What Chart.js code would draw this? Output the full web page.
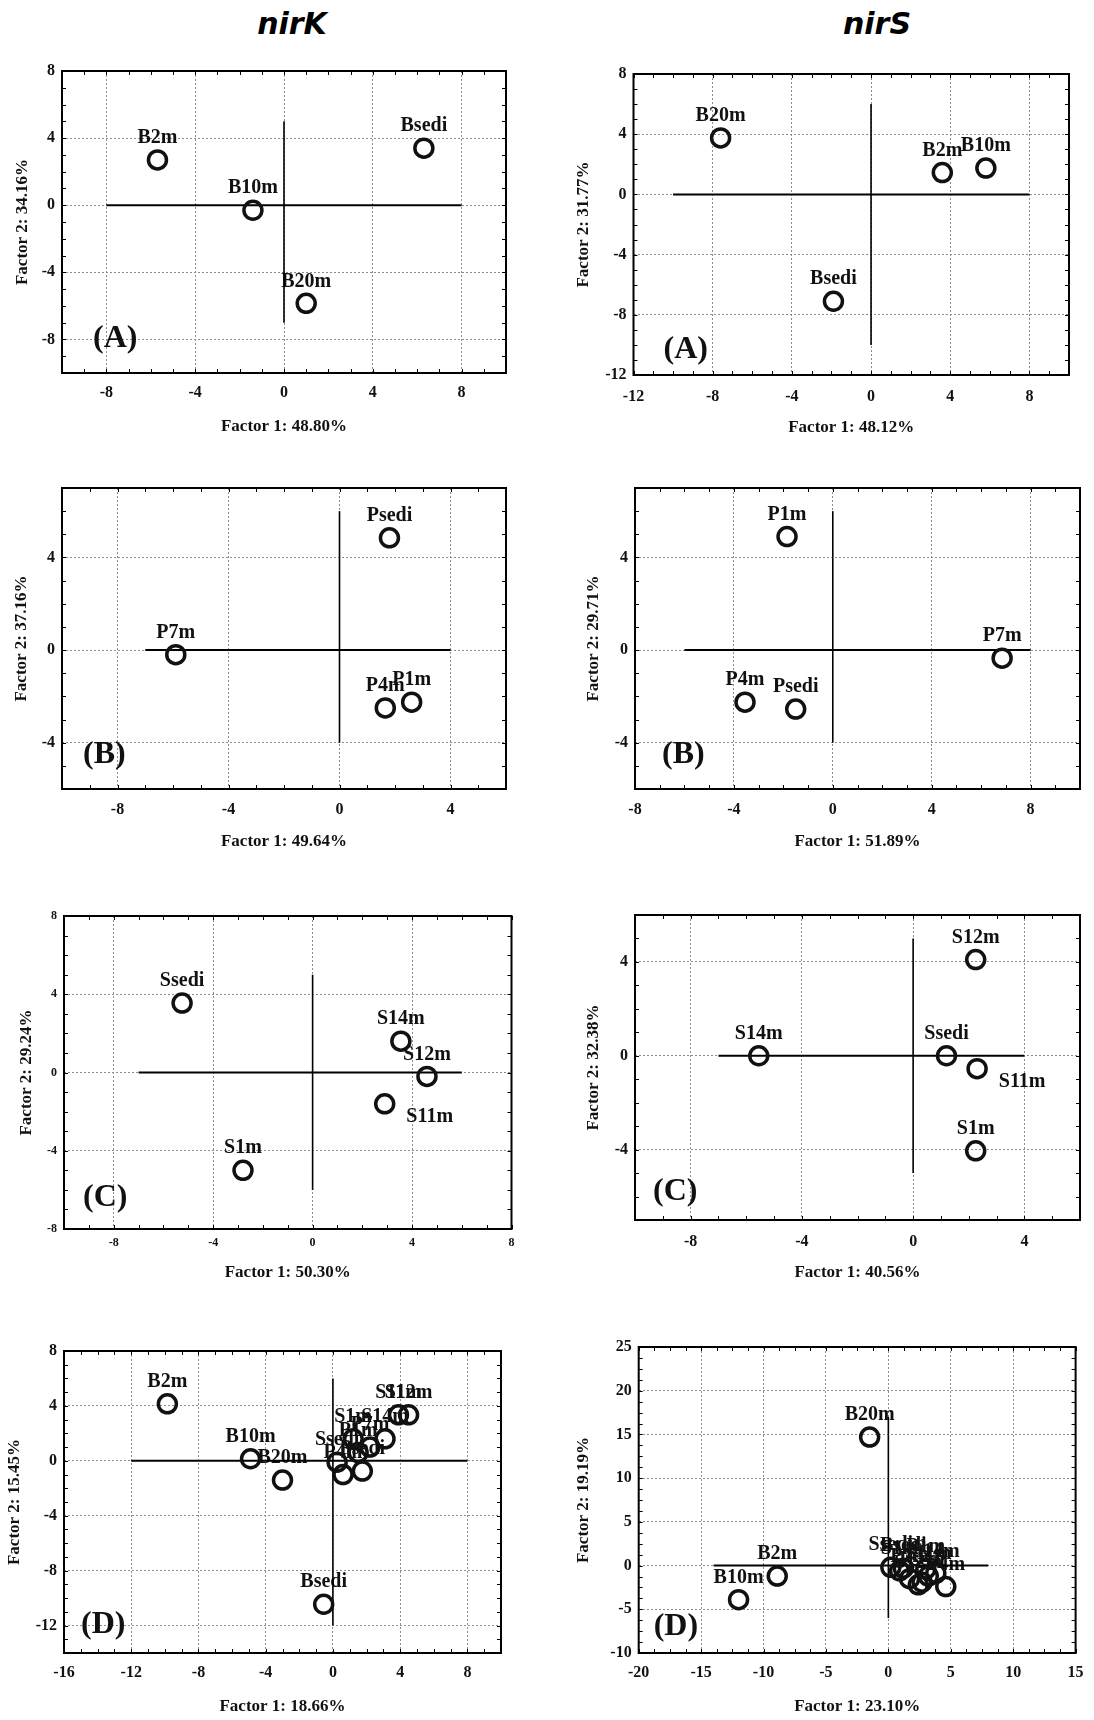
<!DOCTYPE html>
<html><head><meta charset="utf-8">
<script src="https://cdn.jsdelivr.net/npm/chart.js@4.4.1/dist/chart.umd.min.js"></script>
<style>
html,body{margin:0;padding:0;background:#fff}
body{width:1094px;height:1720px;position:relative;overflow:hidden}
canvas{position:absolute}
.hdr{position:absolute;font-family:'DejaVu Sans',sans-serif;font-weight:bold;font-style:italic;font-size:30px;color:#000;transform:translate(-50%,-50%);white-space:nowrap}
</style></head><body>
<div class="hdr" style="left:292px;top:23px">nirK</div>
<div class="hdr" style="left:877px;top:23px">nirS</div>
<script>
// ---------------- DATA ----------------
// nirK (A)
const nirK_A_names = ['B2m','B10m','B20m','Bsedi'];
const nirK_A_x = [-5.7, -1.4, 1.0, 6.3];
const nirK_A_y = [2.7, -0.3, -5.85, 3.4];
const nirK_A_xRange = [-10, 10], nirK_A_yRange = [-10, 8];
const nirK_A_xTicks = [-8, -4, 0, 4, 8], nirK_A_yTicks = [-8, -4, 0, 4, 8];
const nirK_A_hLine = [-8, 8], nirK_A_vLine = [-7, 5];
const nirK_A_titles = ['Factor 1: 48.80%', 'Factor 2: 34.16%', '(A)'];

// nirS (A)
const nirS_A_names = ['B20m','B2m','B10m','Bsedi'];
const nirS_A_x = [-7.6, 3.6, 5.8, -1.9];
const nirS_A_y = [3.75, 1.45, 1.75, -7.1];
const nirS_A_xRange = [-12, 10], nirS_A_yRange = [-12, 8];
const nirS_A_xTicks = [-12, -8, -4, 0, 4, 8], nirS_A_yTicks = [-12, -8, -4, 0, 4, 8];
const nirS_A_hLine = [-10, 8], nirS_A_vLine = [-10, 6];
const nirS_A_titles = ['Factor 1: 48.12%', 'Factor 2: 31.77%', '(A)'];

// nirK (B)
const nirK_B_names = ['Psedi','P7m','P4m','P1m'];
const nirK_B_x = [1.8, -5.9, 1.65, 2.6];
const nirK_B_y = [4.85, -0.2, -2.5, -2.25];
const nirK_B_xRange = [-10, 6], nirK_B_yRange = [-6, 7];
const nirK_B_xTicks = [-8, -4, 0, 4], nirK_B_yTicks = [-4, 0, 4];
const nirK_B_hLine = [-7, 4], nirK_B_vLine = [-4, 6];
const nirK_B_titles = ['Factor 1: 49.64%', 'Factor 2: 37.16%', '(B)'];

// nirS (B)
const nirS_B_names = ['P1m','P7m','P4m','Psedi'];
const nirS_B_x = [-1.85, 6.85, -3.55, -1.5];
const nirS_B_y = [4.9, -0.35, -2.25, -2.55];
const nirS_B_xRange = [-8, 10], nirS_B_yRange = [-6, 7];
const nirS_B_xTicks = [-8, -4, 0, 4, 8], nirS_B_yTicks = [-4, 0, 4];
const nirS_B_hLine = [-6, 8], nirS_B_vLine = [-4, 6];
const nirS_B_titles = ['Factor 1: 51.89%', 'Factor 2: 29.71%', '(B)'];

// nirK (C)
const nirK_C_names = ['Ssedi','S14m','S12m','S11m','S1m'];
const nirK_C_x = [-5.25, 3.55, 4.6, 2.9, -2.8];
const nirK_C_y = [3.55, 1.6, -0.2, -1.6, -5.0];
const nirK_C_xRange = [-10, 8], nirK_C_yRange = [-8, 8];
const nirK_C_xTicks = [-8, -4, 0, 4, 8], nirK_C_yTicks = [-8, -4, 0, 4, 8];
const nirK_C_hLine = [-7, 6], nirK_C_vLine = [-6, 5];
const nirK_C_titles = ['Factor 1: 50.30%', 'Factor 2: 29.24%', '(C)'];

// nirS (C)
const nirS_C_names = ['S12m','S14m','Ssedi','S11m','S1m'];
const nirS_C_x = [2.25, -5.55, 1.2, 2.3, 2.25];
const nirS_C_y = [4.1, 0.0, 0.0, -0.55, -4.05];
const nirS_C_xRange = [-10, 6], nirS_C_yRange = [-7, 6];
const nirS_C_xTicks = [-8, -4, 0, 4], nirS_C_yTicks = [-4, 0, 4];
const nirS_C_hLine = [-7, 4], nirS_C_vLine = [-5, 5];
const nirS_C_titles = ['Factor 1: 40.56%', 'Factor 2: 32.38%', '(C)'];

// nirK (D)
const nirK_D_names = ['B2m','B10m','B20m','Bsedi','Ssedi','P4m','P1m','S1m','P7m','Psedi','S14m','S11m','S12m'];
const nirK_D_x = [-9.85, -4.9, -3.0, -0.55, 0.25, 0.6, 1.5, 1.2, 2.2, 1.75, 3.1, 3.9, 4.5];
const nirK_D_y = [4.15, 0.15, -1.4, -10.45, -0.1, -1.0, 0.6, 1.6, 1.0, -0.75, 1.6, 3.35, 3.35];
const nirK_D_xRange = [-16, 10], nirK_D_yRange = [-14, 8];
const nirK_D_xTicks = [-16, -12, -8, -4, 0, 4, 8], nirK_D_yTicks = [-12, -8, -4, 0, 4, 8];
const nirK_D_hLine = [-12, 8], nirK_D_vLine = [-12, 6];
const nirK_D_titles = ['Factor 1: 18.66%', 'Factor 2: 15.45%', '(D)'];

// nirS (D)
const nirS_D_names = ['B20m','B2m','B10m','Ssedi','S1m','Bsedi','P7m','S12m','Psedi','S11m','P1m','S14m','P4m'];
const nirS_D_x = [-1.5, -8.9, -12.0, 0.2, 0.9, 1.2, 1.7, 2.4, 2.7, 3.2, 3.0, 3.8, 4.6];
const nirS_D_y = [14.7, -1.2, -3.9, -0.2, -0.6, -0.3, -1.5, -2.2, -1.9, -1.2, -0.4, -0.9, -2.4];
const nirS_D_xRange = [-20, 15], nirS_D_yRange = [-10, 25];
const nirS_D_xTicks = [-20, -15, -10, -5, 0, 5, 10, 15], nirS_D_yTicks = [-10, -5, 0, 5, 10, 15, 20, 25];
const nirS_D_hLine = [-14, 8], nirS_D_vLine = [-6, 17];
const nirS_D_titles = ['Factor 1: 23.10%', 'Factor 2: 19.19%', '(D)'];

// ---------------- LAYOUT (positions / styles) ----------------
const ROWS = [[40, 450], [450, 870], [870, 1300], [1300, 1720]];
const LAYOUT = {
  nirK_A: {col:0, row:0, box:[62,71,506,373],     yTitleX:23,  xTitleY:427,  xTickY:393,  tickFont:16, letter:[31,34]},
  nirS_A: {col:1, row:0, box:[633.5,74,1069,375], yTitleX:584, xTitleY:428,  xTickY:397,  tickFont:16, letter:[30,25]},
  nirK_B: {col:0, row:1, box:[62,488,506,789],    yTitleX:22,  xTitleY:842,  xTickY:810,  tickFont:16, letter:[21,34]},
  nirS_B: {col:1, row:1, box:[635,488,1080,789],  yTitleX:594, xTitleY:842,  xTickY:810,  tickFont:16, letter:[27,34]},
  nirK_C: {col:0, row:2, box:[64,916,511.5,1229], yTitleX:27,  xTitleY:1273, xTickY:1243, tickFont:12, letter:[19,31], offsets:{S11m:[45,13]}},
  nirS_C: {col:1, row:2, box:[635,915,1080,1220], yTitleX:594, xTitleY:1273, xTickY:1242, tickFont:16, letter:[18,28], offsets:{S11m:[45,13]}},
  nirK_D: {col:0, row:3, box:[64,1351,501,1653],  yTitleX:15,  xTitleY:1707, xTickY:1673, tickFont:16, letter:[17,28]},
  nirS_D: {col:1, row:3, box:[638.7,1347,1077.3,1653], yTitleX:584, xTitleY:1707, xTickY:1673, tickFont:16, letter:[15,26]}
};

const PANELS = [
  ['nirK_A', nirK_A_names, nirK_A_x, nirK_A_y, nirK_A_xRange, nirK_A_yRange, nirK_A_xTicks, nirK_A_yTicks, nirK_A_hLine, nirK_A_vLine, nirK_A_titles],
  ['nirS_A', nirS_A_names, nirS_A_x, nirS_A_y, nirS_A_xRange, nirS_A_yRange, nirS_A_xTicks, nirS_A_yTicks, nirS_A_hLine, nirS_A_vLine, nirS_A_titles],
  ['nirK_B', nirK_B_names, nirK_B_x, nirK_B_y, nirK_B_xRange, nirK_B_yRange, nirK_B_xTicks, nirK_B_yTicks, nirK_B_hLine, nirK_B_vLine, nirK_B_titles],
  ['nirS_B', nirS_B_names, nirS_B_x, nirS_B_y, nirS_B_xRange, nirS_B_yRange, nirS_B_xTicks, nirS_B_yTicks, nirS_B_hLine, nirS_B_vLine, nirS_B_titles],
  ['nirK_C', nirK_C_names, nirK_C_x, nirK_C_y, nirK_C_xRange, nirK_C_yRange, nirK_C_xTicks, nirK_C_yTicks, nirK_C_hLine, nirK_C_vLine, nirK_C_titles],
  ['nirS_C', nirS_C_names, nirS_C_x, nirS_C_y, nirS_C_xRange, nirS_C_yRange, nirS_C_xTicks, nirS_C_yTicks, nirS_C_hLine, nirS_C_vLine, nirS_C_titles],
  ['nirK_D', nirK_D_names, nirK_D_x, nirK_D_y, nirK_D_xRange, nirK_D_yRange, nirK_D_xTicks, nirK_D_yTicks, nirK_D_hLine, nirK_D_vLine, nirK_D_titles],
  ['nirS_D', nirS_D_names, nirS_D_x, nirS_D_y, nirS_D_xRange, nirS_D_yRange, nirS_D_xTicks, nirS_D_yTicks, nirS_D_hLine, nirS_D_vLine, nirS_D_titles]
];

const SERIF = "'Liberation Serif','Times New Roman',serif";
const INK = '#111';
const TITLE_SIZE = 17, LH = 1.2;

const decor = {
  id: 'decor',
  beforeDatasetsDraw(chart) {
    const o = chart.options.plugins.decor;
    const {ctx, chartArea: a} = chart;
    const xs = chart.scales.x, ys = chart.scales.y;
    ctx.save();
    // minor inward ticks
    ctx.strokeStyle = '#000';
    ctx.lineWidth = 1;
    ctx.beginPath();
    const mx = o.xStep / 4, my = o.yStep / 4;
    for (let v = Math.ceil(xs.min / mx) * mx; v <= xs.max + 1e-9; v += mx) {
      const px = Math.round(xs.getPixelForValue(v)) + 0.5;
      ctx.moveTo(px, a.top); ctx.lineTo(px, a.top + 4);
      ctx.moveTo(px, a.bottom); ctx.lineTo(px, a.bottom - 4);
    }
    for (let v = Math.ceil(ys.min / my) * my; v <= ys.max + 1e-9; v += my) {
      const py = Math.round(ys.getPixelForValue(v)) + 0.5;
      ctx.moveTo(a.left, py); ctx.lineTo(a.left + 4, py);
      ctx.moveTo(a.right, py); ctx.lineTo(a.right - 4, py);
    }
    ctx.stroke();
    // frame
    ctx.lineWidth = 2;
    ctx.strokeStyle = '#000';
    ctx.strokeRect(a.left, a.top, a.right - a.left, a.bottom - a.top);
    // panel letter
    ctx.fillStyle = INK;
    ctx.font = 'bold 32px ' + SERIF;
    ctx.textAlign = 'left';
    ctx.textBaseline = 'middle';
    ctx.fillText(o.letter, a.left + o.letterPos[0], a.bottom - o.letterPos[1]);
    // point labels
    ctx.font = 'bold 20px ' + SERIF;
    ctx.textAlign = 'center';
    const meta = chart.getDatasetMeta(0);
    meta.data.forEach((el, i) => {
      const name = o.names[i];
      const off = (o.offsets && o.offsets[name]) || [0, -22];
      ctx.fillText(name, el.x + off[0], el.y + off[1]);
    });
    ctx.restore();
  }
};

PANELS.forEach(([id, names, xs, ys, xR, yR, xT, yT, hL, vL, titles]) => {
  const L = LAYOUT[id];
  const cLeft = L.col ? 547 : 0, W = 547;
  const [cTop, cBot] = ROWS[L.row];
  const H = cBot - cTop;
  const box = [L.box[0] - cLeft, L.box[1] - cTop, L.box[2] - cLeft, L.box[3] - cTop];
  const cv = document.createElement('canvas');
  cv.width = W; cv.height = H;
  cv.style.left = cLeft + 'px'; cv.style.top = cTop + 'px';
  cv.style.width = W + 'px'; cv.style.height = H + 'px';
  document.body.appendChild(cv);

  const tickLH = L.tickFont * LH;
  const titleHalf = TITLE_SIZE * LH / 2;
  const tickFont = {family: SERIF, size: L.tickFont, weight: 'bold'};
  const titleFont = {family: SERIF, size: TITLE_SIZE, weight: 'bold'};
  const grid = {color: '#8c8c8c', lineWidth: 1, drawTicks: false};
  const border = {display: false, dash: [2, 2]};

  const pts = xs.map((x, i) => ({x, y: ys[i]}));

  new Chart(cv, {
    type: 'scatter',
    data: {
      datasets: [
        {data: pts, pointRadius: 9, pointHoverRadius: 9, pointBorderWidth: 3.5,
         pointBorderColor: INK, pointBackgroundColor: 'rgba(0,0,0,0)', showLine: false},
        {data: [{x: hL[0], y: 0}, {x: hL[1], y: 0}], showLine: true, borderColor: '#000',
         borderWidth: 2, pointRadius: 0, pointHoverRadius: 0},
        {data: [{x: 0, y: vL[0]}, {x: 0, y: vL[1]}], showLine: true, borderColor: '#000',
         borderWidth: 1.6, pointRadius: 0, pointHoverRadius: 0}
      ]
    },
    options: {
      responsive: false, animation: false, devicePixelRatio: 1,
      events: [],
      layout: {padding: {left: 0, top: box[1], right: W - box[2], bottom: 0}},
      plugins: {
        legend: {display: false}, tooltip: {enabled: false},
        decor: {names, offsets: L.offsets || {}, letter: titles[2], letterPos: L.letter,
                xStep: xT[1] - xT[0], yStep: yT[1] - yT[0]}
      },
      scales: {
        x: {
          type: 'linear', position: 'bottom', min: xR[0], max: xR[1],
          afterBuildTicks: s => { s.ticks = xT.map(v => ({value: v})); },
          afterFit: s => { s.height = H - box[3]; },
          ticks: {font: tickFont, color: INK, padding: Math.max(0, L.xTickY - L.box[3] - tickLH / 2),
                  maxRotation: 0, autoSkip: false, callback: v => String(v)},
          grid, border,
          title: {display: true, text: titles[0], font: titleFont, color: INK,
                  padding: {top: 0, bottom: cBot - L.xTitleY - titleHalf}}
        },
        y: {
          type: 'linear', position: 'left', min: yR[0], max: yR[1],
          afterBuildTicks: s => { s.ticks = yT.map(v => ({value: v})); },
          afterFit: s => { s.width = box[0]; },
          ticks: {font: tickFont, color: INK, padding: 7, autoSkip: false, callback: v => String(v)},
          grid, border,
          title: {display: true, text: titles[1], font: titleFont, color: INK,
                  padding: {top: L.yTitleX - cLeft - titleHalf, bottom: 0}}
        }
      }
    },
    plugins: [decor]
  });
});
</script>
</body></html>
